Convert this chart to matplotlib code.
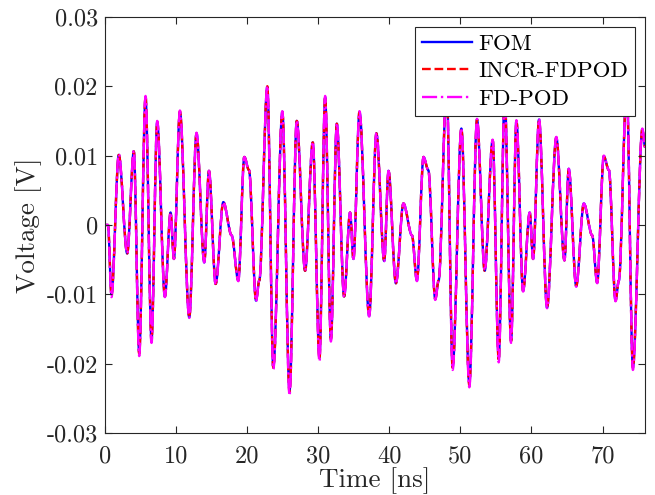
import matplotlib
matplotlib.use("Agg")
import matplotlib.pyplot as plt
from matplotlib.path import Path
from matplotlib.patches import PathPatch
from matplotlib.lines import Line2D

plt.rcParams['font.family'] = ['cmr10', 'DejaVu Serif']
plt.rcParams['axes.unicode_minus'] = False
plt.rcParams['mathtext.fontset'] = 'cm'

# Extrema / shoulder points (time in ns, voltage in V)
time_ns = [0, 0.45, 0.94, 1.97, 3.15, 4.08, 4.84, 5.73, 6.57, 7.37, 8.45, 9.25, 9.72,
           10.56, 11.88, 12.9, 13.99, 14.65, 15.59, 16.67, 17.84, 18.78, 19.62, 20.28,
           21.27, 21.73, 22.86, 23.7, 24.97, 25.98, 27.0, 28.17, 29.25, 30.19, 30.99,
           31.8, 32.63, 33.66, 34.5, 34.97, 35.82, 37.18, 38.2, 39.3, 39.9, 40.94, 42.0,
           43.2, 43.9, 44.83, 45.5, 46.48, 46.95, 48.08, 48.92, 50.15, 51.27, 52.35,
           53.43, 54.55, 55.4, 56.24, 57.14, 57.89, 58.83, 59.76, 60.24, 61.07, 62.2,
           63.5, 64.65, 65.25, 66.3, 67.37, 68.55, 69.25, 70.18, 70.9, 71.83, 72.3,
           73.4, 74.27, 75.6, 76.0]

fom = [0, 0, -0.0100, 0.0101, -0.0041, 0.0106, -0.0184, 0.0184, -0.0166, 0.0148,
       -0.0103, 0.0018, -0.0049, 0.0163, -0.0133, 0.0132, -0.0054, 0.0078, -0.0085,
       0.0033, -0.0015, -0.0080, 0.0098, 0.0079, -0.0109, -0.0080, 0.0199, -0.0205,
       0.0163, -0.0239, 0.0150, -0.0066, 0.0119, -0.0191, 0.0184, -0.0164, 0.0146,
       -0.0103, 0.0018, -0.0049, 0.0163, -0.0131, 0.0132, -0.0052, 0.0078, -0.0084,
       0.0031, -0.0015, -0.0080, 0.0098, 0.0079, -0.0107, -0.0080, 0.0199, -0.0205,
       0.0139, -0.0229, 0.0152, -0.0066, 0.0122, -0.0193, 0.0185, -0.0167, 0.0150,
       -0.0095, 0.0018, -0.0049, 0.0152, -0.0119, 0.0126, -0.0051, 0.0081, -0.0088,
       0.0031, -0.0015, -0.0083, 0.0099, 0.0079, -0.0109, -0.0080, 0.0199, -0.0205,
       0.0138, 0.0112]

incr_fdpod = [0, 0, -0.0101, 0.0101, -0.0041, 0.0106, -0.0186, 0.0185, -0.0167, 0.0149,
              -0.0103, 0.0018, -0.0049, 0.0164, -0.0133, 0.0132, -0.0054, 0.0078, -0.0085,
              0.0033, -0.0015, -0.0080, 0.0098, 0.0079, -0.0109, -0.0080, 0.0200, -0.0206,
              0.0163, -0.0242, 0.0150, -0.0066, 0.0119, -0.0193, 0.0185, -0.0165, 0.0146,
              -0.0103, 0.0018, -0.0049, 0.0163, -0.0131, 0.0132, -0.0052, 0.0078, -0.0084,
              0.0031, -0.0015, -0.0080, 0.0098, 0.0079, -0.0107, -0.0080, 0.0199, -0.0206,
              0.0139, -0.0231, 0.0152, -0.0066, 0.0122, -0.0195, 0.0185, -0.0168, 0.0150,
              -0.0095, 0.0018, -0.0049, 0.0152, -0.0119, 0.0126, -0.0051, 0.0081, -0.0088,
              0.0031, -0.0015, -0.0083, 0.0099, 0.0079, -0.0109, -0.0080, 0.0199, -0.0206,
              0.0138, 0.0112]

fd_pod = [0, 0, -0.0104, 0.0102, -0.0041, 0.0107, -0.0189, 0.0186, -0.0170, 0.0150,
          -0.0104, 0.0018, -0.0049, 0.0165, -0.0134, 0.0133, -0.0054, 0.0078, -0.0086,
          0.0033, -0.0015, -0.0081, 0.0098, 0.0079, -0.0110, -0.0080, 0.0201, -0.0208,
          0.0164, -0.0246, 0.0151, -0.0066, 0.0120, -0.0197, 0.0186, -0.0168, 0.0147,
          -0.0104, 0.0018, -0.0049, 0.0164, -0.0132, 0.0133, -0.0052, 0.0078, -0.0085,
          0.0031, -0.0015, -0.0081, 0.0098, 0.0079, -0.0108, -0.0080, 0.0200, -0.0209,
          0.0140, -0.0234, 0.0153, -0.0066, 0.0123, -0.0198, 0.0186, -0.0170, 0.0151,
          -0.0096, 0.0018, -0.0049, 0.0153, -0.0120, 0.0127, -0.0051, 0.0081, -0.0089,
          0.0031, -0.0015, -0.0084, 0.0100, 0.0079, -0.0110, -0.0080, 0.0200, -0.0209,
          0.0139, 0.0112]

series_names = ['FOM', 'INCR-FDPOD', 'FD-POD']
x_ticks = [0, 10, 20, 30, 40, 50, 60, 70]
y_ticks = [-0.03, -0.02, -0.01, 0, 0.01, 0.02, 0.03]
y_tick_labels = ['-0.03', '-0.02', '-0.01', '0', '0.01', '0.02', '0.03']


def smooth_path(t, v):
    """Bezier path through the extrema, flat tangents at each read point."""
    verts = [(t[0], v[0])]
    codes = [Path.MOVETO]
    for i in range(1, len(t)):
        d = t[i] - t[i - 1]
        verts += [(t[i - 1] + d / 3.0, v[i - 1]), (t[i] - d / 3.0, v[i]), (t[i], v[i])]
        codes += [Path.CURVE4] * 3
    return Path(verts, codes)


fig = plt.figure(figsize=(6.55, 4.95), dpi=100)
ax = fig.add_axes([0.160, 0.125, 0.825, 0.841])

styles = [
    dict(color='#0000ff', linestyle='-', lw=1.7),
    dict(color='#ff0000', linestyle='--', lw=1.7),
    dict(color='#ff00ff', linestyle='-.', lw=1.7),
]
for vals, st in zip([fom, incr_fdpod, fd_pod], styles):
    ax.add_patch(PathPatch(smooth_path(time_ns, vals), fill=False,
                           edgecolor=st['color'], linestyle=st['linestyle'],
                           lw=st['lw'], capstyle='butt', joinstyle='round'))

ax.set_xlim(0, 76)
ax.set_ylim(-0.03, 0.03)
ax.set_xticks(x_ticks)
ax.set_xticklabels([str(x) for x in x_ticks])
ax.set_yticks(y_ticks)
ax.set_yticklabels(y_tick_labels)
ax.tick_params(axis='both', direction='in', top=True, right=True, length=5, width=0.8,
               labelsize=17.5, colors='#262626', labelcolor='#262626')
ax.tick_params(axis='x', pad=9)
ax.tick_params(axis='y', pad=5)
for s in ax.spines.values():
    s.set_color('#262626')
    s.set_linewidth(0.8)

ax.set_xlabel('Time [ns]', fontsize=19.5, color='#262626', labelpad=0)
ax.set_ylabel('Voltage [V]', fontsize=19.5, color='#262626', labelpad=3)

handles = [Line2D([], [], **st) for st in styles]
leg = ax.legend(handles, series_names, loc='upper right', fontsize=16.5,
                frameon=True, fancybox=False, edgecolor='#262626', framealpha=1,
                handlelength=2.2, handletextpad=0.25, labelspacing=0.32,
                borderpad=0.3, borderaxespad=0.45)
leg.get_frame().set_linewidth(0.8)

fig.savefig('out.png', dpi=100)
